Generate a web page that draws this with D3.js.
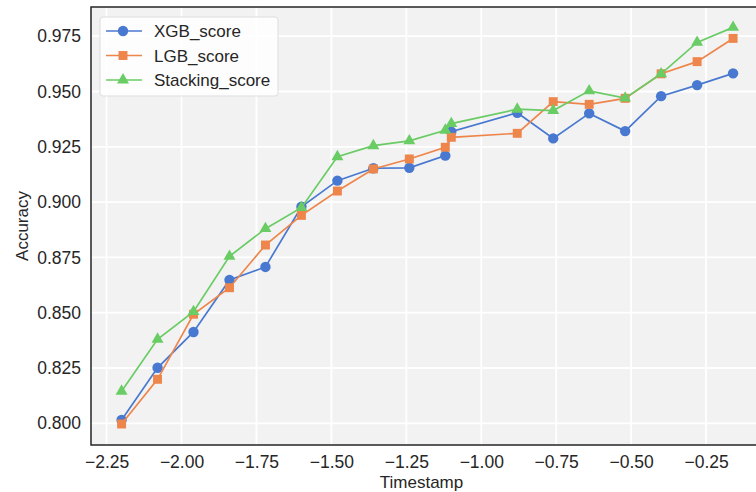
<!DOCTYPE html>
<html>
<head>
<meta charset="utf-8">
<script src="https://cdn.jsdelivr.net/npm/d3@7"></script>
<style>
  html, body { margin: 0; padding: 0; background: #ffffff; }
  svg { display: block; font-family: "Liberation Sans", Arial, sans-serif; }
</style>
</head>
<body>
<svg id="chart" width="756" height="492"></svg>
<script>
// Timestamp positions shared by all three models
const timestamps = [-2.20, -2.08, -1.96, -1.84, -1.72, -1.60, -1.48, -1.36, -1.24,
                    -1.12, -1.10, -0.88, -0.76, -0.64, -0.52, -0.40, -0.28, -0.16];

const xgbScore = [0.8015, 0.8251, 0.8413, 0.8648, 0.8707, 0.8979, 0.9097, 0.9153, 0.9155,
                  0.9210, 0.9318, 0.9404, 0.9288, 0.9401, 0.9321, 0.9479, 0.9529, 0.9582];
const lgbScore = [0.7997, 0.8199, 0.8493, 0.8613, 0.8806, 0.8940, 0.9050, 0.9150, 0.9195,
                  0.9248, 0.9293, 0.9311, 0.9454, 0.9442, 0.9469, 0.9580, 0.9635, 0.9740];
const stackingScore = [0.8145, 0.8380, 0.8505, 0.8755, 0.8880, 0.8975, 0.9205, 0.9255, 0.9277,
                       0.9325, 0.9355, 0.9420, 0.9414, 0.9503, 0.9470, 0.9580, 0.9722, 0.9790];

const seriesNames = ["XGB_score", "LGB_score", "Stacking_score"];
const xTicks = [-2.25, -2.00, -1.75, -1.50, -1.25, -1.00, -0.75, -0.50, -0.25];
const yTicks = [0.800, 0.825, 0.850, 0.875, 0.900, 0.925, 0.950, 0.975];

const series = [
  { name: seriesNames[0], values: xgbScore, color: "#4878d0", symbol: d3.symbolCircle, size: 85 },
  { name: seriesNames[1], values: lgbScore, color: "#ee854a", symbol: d3.symbolSquare, size: 80 },
  { name: seriesNames[2], values: stackingScore, color: "#6acc64", symbol: d3.symbolTriangle, size: 62 }
];

const svg = d3.select("#chart");
const plotL = 91, plotT = 7, plotB = 445, plotR = 820;

const x = d3.scaleLinear().domain([-2.302, 0.130]).range([plotL, plotR]);
const y = d3.scaleLinear().domain([0.7902, 0.9882]).range([plotB, plotT]);

// plot background
svg.append("rect")
  .attr("x", plotL).attr("y", plotT)
  .attr("width", plotR - plotL).attr("height", plotB - plotT)
  .attr("fill", "#f2f2f2");

// grid lines
const grid = svg.append("g");
grid.selectAll("line.gx").data(xTicks).join("line")
  .attr("class", "gx")
  .attr("x1", d => x(d)).attr("x2", d => x(d))
  .attr("y1", plotT).attr("y2", plotB)
  .attr("stroke", "#ffffff").attr("stroke-width", 1.8);
grid.selectAll("line.gy").data(yTicks).join("line")
  .attr("class", "gy")
  .attr("x1", plotL).attr("x2", plotR)
  .attr("y1", d => y(d)).attr("y2", d => y(d))
  .attr("stroke", "#ffffff").attr("stroke-width", 1.8);

// axes
const fmtX = v => d3.format(".2f")(v).replace("-", "\u2212");
const xAxis = svg.append("g")
  .attr("transform", `translate(0,${plotB})`)
  .call(d3.axisBottom(x).tickValues(xTicks).tickFormat(fmtX).tickSize(0).tickPadding(11));
const yAxis = svg.append("g")
  .attr("transform", `translate(${plotL},0)`)
  .call(d3.axisLeft(y).tickValues(yTicks).tickFormat(d3.format(".3f")).tickSize(0).tickPadding(10));
[xAxis, yAxis].forEach(g => {
  g.select(".domain").remove();
  g.selectAll("text").attr("font-size", 17.5).attr("fill", "#262626")
    .attr("font-family", "'Liberation Sans', Arial, sans-serif");
});

// spines
svg.append("path")
  .attr("d", `M${plotR},${plotT}H${plotL}V${plotB}H${plotR}`)
  .attr("fill", "none").attr("stroke", "#262626").attr("stroke-width", 1.5);

// axis titles
svg.append("text")
  .attr("x", (plotL + 756) / 2 - 2).attr("y", 488)
  .attr("text-anchor", "middle").attr("font-size", 17).attr("fill", "#262626")
  .text("Timestamp");
svg.append("text")
  .attr("transform", `translate(28,${(plotT + plotB) / 2}) rotate(-90)`)
  .attr("text-anchor", "middle").attr("font-size", 17).attr("fill", "#262626")
  .text("Accuracy");

// lines and markers
const line = d3.line().x((d, i) => x(timestamps[i])).y(d => y(d));
series.forEach(s => {
  const g = svg.append("g");
  g.append("path").datum(s.values)
    .attr("d", line).attr("fill", "none")
    .attr("stroke", s.color).attr("stroke-width", 1.7);
  g.selectAll("path.m").data(s.values).join("path")
    .attr("class", "m")
    .attr("d", d3.symbol().type(s.symbol).size(s.size))
    .attr("transform", (d, i) => `translate(${x(timestamps[i])},${y(d)})`)
    .attr("fill", s.color);
});

// legend
const legend = svg.append("g").attr("transform", "translate(100,17)");
legend.append("rect")
  .attr("width", 178).attr("height", 79).attr("rx", 3)
  .attr("fill", "#ffffff").attr("fill-opacity", 0.85)
  .attr("stroke", "#dddddd").attr("stroke-width", 1);
series.forEach((s, i) => {
  const cy = 14 + i * 24.5;
  legend.append("line")
    .attr("x1", 6).attr("x2", 42).attr("y1", cy).attr("y2", cy)
    .attr("stroke", s.color).attr("stroke-width", 1.7);
  legend.append("path")
    .attr("d", d3.symbol().type(s.symbol).size(s.size))
    .attr("transform", `translate(23,${cy})`)
    .attr("fill", s.color);
  legend.append("text")
    .attr("x", 54).attr("y", cy + 6)
    .attr("font-size", 17).attr("fill", "#262626")
    .text(s.name);
});
</script>
</body>
</html>
